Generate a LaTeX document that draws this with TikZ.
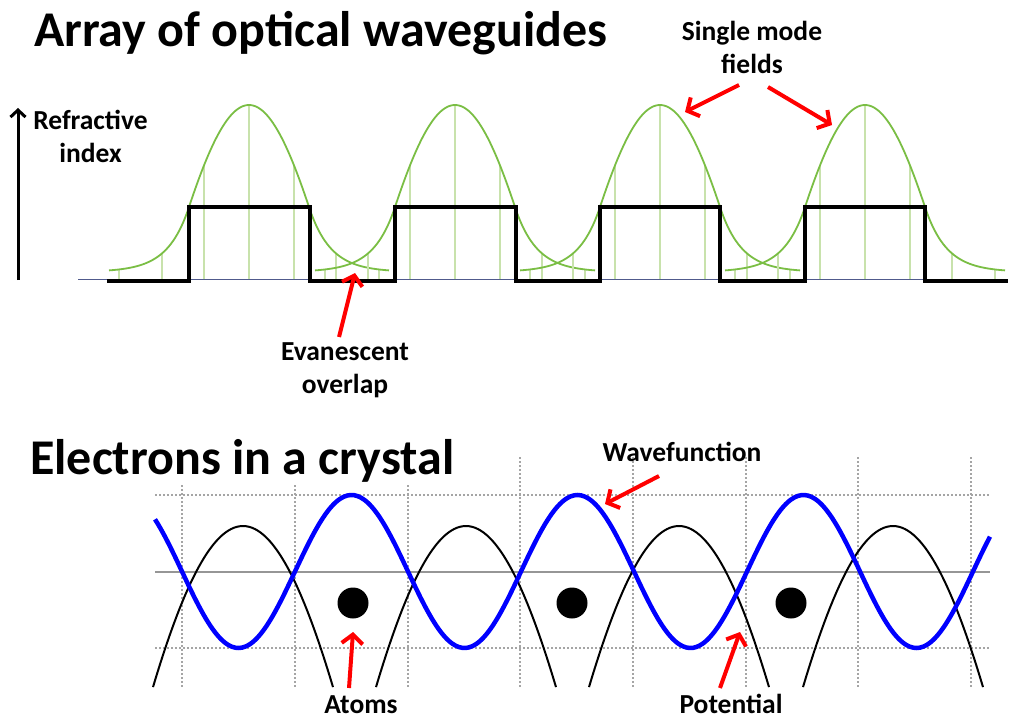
\documentclass[tikz,border=0pt]{standalone}
\usepackage{fontspec}
\setmainfont{Carlito}
\usetikzlibrary{arrows.meta}
\definecolor{modegreen}{RGB}{122,190,68}
\definecolor{gridgreen}{RGB}{200,226,172}
\definecolor{baseblue}{RGB}{80,90,140}
\definecolor{gridgray}{RGB}{165,165,165}
\definecolor{axisgray}{RGB}{150,150,150}
\definecolor{wfblue}{RGB}{0,0,255}
\definecolor{arrred}{RGB}{255,0,0}
\tikzset{
  titletext/.style={font=\bfseries\fontsize{50}{56}\selectfont, inner sep=0pt},
  labeltext/.style={font=\bfseries\fontsize{27.5}{33}\selectfont, inner sep=0pt, align=center},
  redarrow/.style={draw=arrred, line width=4pt, -{Straight Barb[length=9pt,width=21pt]}},
  modecurve/.style={draw=modegreen, line width=1.8pt},
  modegrid/.style={draw=gridgreen, line width=1.3pt},
  steplineblack/.style={draw=black, line width=4.5pt, line join=miter},
  dotgrid/.style={draw=gridgray, line width=1.5pt, dash pattern=on 1.5pt off 2.5pt},
  wave/.style={draw=wfblue, line width=4.5pt},
  potline/.style={draw=black, line width=2pt},
  atom/.style={circle, fill=black, minimum size=31pt, inner sep=0pt}
}
\begin{document}
\begin{tikzpicture}[x=1pt,y=-1pt,
  declare function={mode(\t)=ifthenelse(abs(\t)<60.5, cos(1.1184*\t), 0.380*exp(-0.0463*(abs(\t)-60.5)));}]
\useasboundingbox (0,0) rectangle (1019,719);
\fill[white] (0,0) rectangle (1019,719);

% ---------- top panel ----------
\node[titletext, anchor=base west] (title1) at (34,47) {Array of optical waveguides};

% axis arrow
\coordinate (axbot) at (18,280);
\coordinate (axtop) at (18,108);
\draw[line width=3pt, -{Straight Barb[length=7pt,width=15pt]}] (axbot) -- (axtop);
\node[labeltext, anchor=base] (refr) at (90.5,163) {Refractive\\index};

% baseline
\coordinate (bl0) at (78,279);
\coordinate (bl1) at (1005,279);
\draw[baseblue, line width=1pt] (bl0) -- (bl1);

% mode grids and curves
\foreach \c in {249,455,660,865}{
  \foreach \d in {-130,-87,-45,0,45,87,130}{
    \pgfmathsetmacro{\yy}{272-167*mode(\d)}
    \draw[modegrid] (\c+\d,279) -- (\c+\d,\yy);
  }
  \draw[modecurve] plot[domain=-140:140, samples=141, smooth] ({\c+\x}, {272-167*mode(\x)});
}

% refractive index steps
\draw[steplineblack] (107,281) -- (189,281) -- (189,207) -- (310,207) -- (310,281)
  -- (395,281) -- (395,207) -- (516,207) -- (516,281) -- (600,281) -- (600,207)
  -- (720,207) -- (720,281) -- (805,281) -- (805,207) -- (925,207) -- (925,281) -- (1008,281);

% labels and arrows top
\node[labeltext, anchor=base] (smf) at (752,74) {Single mode\\fields};
\coordinate (smfL) at (739,85);
\coordinate (smfLtip) at (685,112);
\coordinate (smfR) at (768,87);
\coordinate (smfRtip) at (832,125);
\draw[redarrow] (smfL) -- (smfLtip);
\draw[redarrow] (smfR) -- (smfRtip);

\node[labeltext, anchor=base] (evan) at (345,393) {Evanescent\\overlap};
\coordinate (evtail) at (339,337);
\coordinate (evtip) at (355,273);
\draw[redarrow] (evtail) -- (evtip);

% ---------- bottom panel ----------
\foreach \gx in {182,295,408,520,633,746,858,971}{
  \draw[dotgrid] (\gx,457) -- (\gx,687);
}
\draw[dotgrid] (155,495) -- (990,495);
\draw[dotgrid] (155,648) -- (990,648);
\draw[axisgray, line width=2pt] (155,572) -- (990,572);

\node[titletext, anchor=base west, fill=white, inner ysep=1pt] (title2) at (30,474) {Electrons in a crystal};

\foreach \c in {243,466,679,893}{
  \draw[potline] plot[domain=-90:90, samples=61, smooth] ({\c+\x}, {526+442*(1-cos(0.5615*\x))});
}
\draw[wave] plot[domain=155:990, samples=240, smooth] (\x, {571.5-76.5*sin(1.59292*(\x-295))});

\node[atom] (atom1) at (353,603) {};
\node[atom] (atom2) at (572,603) {};
\node[atom] (atom3) at (791,603) {};

\node[labeltext, anchor=base] (wf) at (682,461) {Wavefunction};
\coordinate (wftail) at (659,476);
\coordinate (wftip) at (605,504);
\draw[redarrow] (wftail) -- (wftip);

\node[labeltext, anchor=base] (atoms) at (361,713) {Atoms};
\coordinate (attail) at (349,688);
\coordinate (attip) at (353,632);
\draw[redarrow] (attail) -- (attip);

\node[labeltext, anchor=base] (pot) at (731,713) {Potential};
\coordinate (pttail) at (720,688);
\coordinate (pttip) at (740,632);
\draw[redarrow] (pttail) -- (pttip);
\end{tikzpicture}
\end{document}
